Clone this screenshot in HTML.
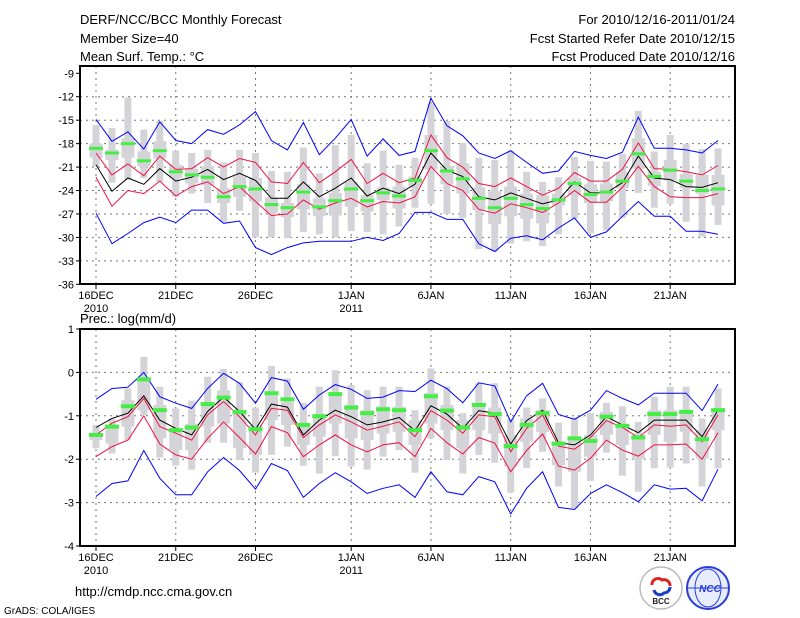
<!DOCTYPE html>
<html><head><meta charset="utf-8">
<style>
html,body{margin:0;padding:0;background:#fff;}
svg{display:block;font-family:"Liberation Sans",sans-serif;}
</style></head>
<body>
<svg id="chart" width="800" height="618" viewBox="0 0 800 618" xmlns="http://www.w3.org/2000/svg">
<g font-size="13" fill="#000">
<text x="80" y="24">DERF/NCC/BCC Monthly Forecast</text>
<text x="80" y="43">Member Size=40</text>
<text x="80" y="61">Mean Surf. Temp.: °C</text>
<text x="735" y="24" text-anchor="end">For 2010/12/16-2011/01/24</text>
<text x="735" y="43" text-anchor="end">Fcst Started Refer Date 2010/12/15</text>
<text x="735" y="61" text-anchor="end">Fcst Produced Date 2010/12/16</text>
<text x="80" y="323">Prec.: log(mm/d)</text>
<text x="75" y="596">http://cmdp.ncc.cma.gov.cn</text>
<text x="4" y="614" font-size="10">GrADS: COLA/IGES</text>
</g>
<g>
<circle cx="661" cy="588" r="21" fill="#fff" stroke="#bbb" stroke-width="1.5"/>
<path d="M652 585 a6 6 0 0 1 10 -5 a6 6 0 0 1 8 6" fill="none" stroke="#e02020" stroke-width="3"/>
<path d="M654 590 a6 6 0 0 0 10 3 a6 6 0 0 0 6 -6" fill="none" stroke="#1a3cc8" stroke-width="3"/>
<text x="661" y="604" font-size="8" text-anchor="middle" font-weight="bold" fill="#222">BCC</text>
</g>
<g>
<circle cx="708" cy="588" r="21" fill="#e8ecff" stroke="#2a3cd8" stroke-width="2"/>
<ellipse cx="708" cy="588" rx="13" ry="19" fill="none" stroke="#2a3cd8" stroke-width="1"/>
<line x1="688" y1="588" x2="728" y2="588" stroke="#2a3cd8" stroke-width="1"/>
<text x="710" y="592" font-size="10" text-anchor="middle" font-style="italic" font-weight="bold" fill="#2a3cd8">NCC</text>
</g>
</svg>
<script>
// ---- temperature panel data (°C) ----
const days = ["16DEC","","","","","21DEC","","","","","26DEC","","","","","","1JAN","","","","","6JAN","","","","","11JAN","","","","","16JAN","","","","","21JAN","","",""];
const dateLabels = ["16DEC","21DEC","26DEC","1JAN","6JAN","11JAN","16JAN","21JAN"];
const dateIdx = [0,5,10,16,21,26,31,36];
const yearLabels = ["2010","2011"];
const yearIdx = [0,16];
const tTicks = [-9,-12,-15,-18,-21,-24,-27,-30,-33,-36];
const pTicks = [1,0,-1,-2,-3,-4];

const tMax = [-14.9,-17.7,-16.5,-18.7,-15.2,-17.6,-18.0,-16.2,-16.8,-15.6,-13.9,-17.6,-18.8,-15.3,-19.4,-17.3,-14.9,-19.6,-17.4,-19.5,-19.0,-12.2,-15.7,-17.0,-19.2,-19.9,-18.9,-20.4,-21.8,-21.5,-19.0,-19.5,-19.9,-19.1,-14.6,-18.6,-18.6,-18.8,-19.2,-17.6];
const tMin = [-26.9,-30.8,-29.5,-28.1,-27.4,-28.1,-26.5,-26.5,-28.2,-27.9,-31.3,-32.2,-31.3,-30.7,-30.5,-30.5,-30.5,-30.0,-30.4,-29.5,-26.8,-26.8,-27.7,-27.7,-30.8,-31.8,-30.1,-29.8,-30.3,-28.8,-27.5,-30.0,-29.3,-27.3,-25.4,-27.3,-27.3,-29.2,-29.2,-29.6];
const tUp = [-19.2,-22.0,-20.6,-22.1,-19.6,-21.3,-21.2,-19.8,-21.0,-19.9,-20.4,-22.9,-23.1,-20.4,-23.0,-21.6,-20.0,-23.1,-21.8,-23.0,-22.4,-16.9,-19.8,-21.0,-23.1,-23.5,-22.4,-23.5,-24.6,-23.7,-21.7,-22.8,-22.8,-21.3,-17.9,-21.2,-21.3,-21.6,-22.0,-20.8];
const tMean = [-20.7,-24.1,-22.4,-23.2,-21.2,-22.8,-22.3,-21.3,-22.6,-21.8,-22.7,-25.0,-25.0,-22.9,-24.8,-23.7,-22.4,-24.7,-23.7,-24.4,-23.2,-19.2,-21.4,-22.2,-24.8,-25.2,-24.3,-25.0,-25.7,-25.2,-22.9,-24.3,-24.3,-23.0,-19.6,-22.4,-22.6,-23.5,-23.6,-23.0];
const tLo = [-22.3,-26.0,-24.0,-24.4,-22.8,-24.7,-23.5,-22.9,-24.4,-23.5,-25.4,-27.2,-27.0,-25.2,-26.4,-25.6,-25.0,-26.1,-25.4,-25.6,-24.8,-20.9,-23.1,-24.0,-26.4,-26.9,-25.7,-26.2,-26.8,-25.6,-24.0,-25.5,-25.5,-23.6,-20.9,-23.5,-24.8,-24.9,-24.9,-24.4];
const tWhiskTop = [-15.6,-16.0,-12.1,-16.2,-15.1,-18.9,-19.2,-18.8,-20.4,-18.8,-19.2,-21.5,-21.6,-18.5,-21.8,-18.2,-16.9,-20.5,-18.9,-20.7,-19.8,-12.9,-15.1,-17.9,-19.8,-20.1,-18.9,-21.6,-22.9,-22.3,-19.7,-20.2,-20.3,-19.3,-13.8,-19.0,-16.9,-18.0,-18.7,-18.6];
const tWhiskBot = [-20.9,-23.0,-22.6,-22.4,-22.9,-24.8,-24.4,-25.6,-28.0,-26.6,-30.0,-30.0,-30.1,-29.3,-29.6,-30.0,-29.2,-29.3,-29.6,-28.6,-26.2,-25.7,-27.0,-27.5,-31.5,-31.8,-30.8,-30.5,-31.1,-29.6,-27.6,-29.5,-29.1,-27.5,-24.3,-26.2,-25.7,-28.0,-29.9,-28.4];
const tBoxTop = [-18.0,-18.8,-17.3,-19.0,-17.7,-20.7,-21.2,-20.9,-23.7,-22.2,-22.4,-24.9,-25.6,-23.2,-25.0,-24.3,-22.9,-24.6,-23.6,-23.5,-22.2,-16.9,-20.9,-20.5,-23.6,-24.1,-23.5,-24.4,-24.6,-24.4,-22.4,-23.2,-23.1,-21.6,-17.3,-21.6,-20.1,-21.9,-22.0,-22.0];
const tBoxBot = [-19.8,-20.1,-19.8,-20.9,-19.9,-22.4,-23.1,-23.3,-25.6,-24.8,-25.4,-26.9,-27.4,-26.4,-27.3,-27.2,-26.1,-26.7,-25.2,-26.3,-23.5,-21.3,-23.2,-24.4,-26.5,-28.3,-27.3,-27.6,-28.2,-25.9,-24.6,-25.6,-25.4,-23.7,-21.2,-23.4,-22.7,-23.7,-24.4,-25.9];
const tObs = [-18.6,-19.2,-18.0,-20.2,-18.9,-21.6,-22.0,-22.3,-24.8,-23.5,-23.8,-25.8,-26.2,-24.2,-26.1,-25.3,-23.8,-25.3,-24.3,-24.7,-22.7,-18.9,-21.5,-22.5,-25.0,-26.2,-25.0,-25.8,-26.3,-25.2,-23.1,-24.5,-24.2,-22.8,-19.3,-22.2,-21.4,-22.8,-24.0,-23.8];

// ---- precipitation panel data (log mm/d) ----
const pMax = [-0.62,-0.37,-0.34,0.0,-0.56,-0.71,-0.83,-0.37,-0.02,-0.25,-0.71,-0.12,-0.20,-0.85,-0.52,-0.28,-0.39,-0.60,-0.57,-0.42,-0.44,-0.18,-0.37,-0.70,-0.24,-0.31,-1.14,-0.54,-0.25,-0.97,-1.08,-0.87,-0.42,-0.60,-0.75,-0.48,-0.48,-0.48,-0.88,-0.27];
const pMin = [-2.86,-2.56,-2.50,-1.80,-2.44,-2.82,-2.82,-2.29,-1.96,-2.26,-2.69,-2.10,-2.26,-2.88,-2.56,-2.31,-2.52,-2.79,-2.67,-2.59,-2.88,-2.29,-2.75,-2.82,-2.40,-2.52,-3.26,-2.67,-2.29,-3.11,-3.16,-2.79,-2.59,-2.77,-2.98,-2.59,-2.69,-2.67,-2.96,-2.23];
const pUp = [-1.44,-1.17,-1.02,-0.60,-1.25,-1.40,-1.56,-0.98,-0.67,-1.02,-1.44,-0.83,-0.87,-1.50,-1.21,-0.98,-1.14,-1.33,-1.24,-1.14,-1.48,-0.88,-1.10,-1.40,-0.98,-1.02,-1.83,-1.29,-0.98,-1.70,-1.77,-1.50,-1.11,-1.27,-1.50,-1.21,-1.24,-1.21,-1.60,-0.98];
const pMean = [-1.27,-1.06,-0.94,-0.54,-1.10,-1.29,-1.44,-0.90,-0.57,-0.90,-1.31,-0.73,-0.80,-1.44,-1.10,-0.87,-1.02,-1.21,-1.14,-1.04,-1.34,-0.77,-0.96,-1.29,-0.88,-0.94,-1.65,-1.11,-0.87,-1.62,-1.67,-1.44,-1.02,-1.21,-1.39,-1.10,-1.10,-1.10,-1.48,-0.87];
const pLo = [-1.94,-1.71,-1.56,-1.00,-1.65,-1.90,-2.00,-1.52,-1.14,-1.50,-1.88,-1.25,-1.39,-1.94,-1.67,-1.44,-1.67,-1.83,-1.67,-1.62,-1.94,-1.29,-1.62,-1.88,-1.50,-1.63,-2.29,-1.80,-1.42,-2.16,-2.25,-1.98,-1.56,-1.79,-1.93,-1.67,-1.67,-1.65,-2.00,-1.39];
const pWhiskTop = [-1.21,-1.06,-0.37,0.36,-0.33,-0.83,-0.65,-0.10,0.08,-0.22,-0.81,0.15,-0.14,-0.70,-0.33,0.05,-0.29,-0.41,-0.33,-0.33,-0.87,0.09,-0.33,-0.94,-0.25,-0.25,-1.06,-0.81,-0.60,-1.16,-1.04,-0.94,-0.70,-0.78,-1.14,-0.56,-0.33,-0.33,-1.06,-0.37];
const pWhiskBot = [-1.75,-1.87,-1.56,-0.98,-1.96,-2.15,-2.24,-1.62,-1.62,-2.02,-2.31,-1.90,-1.71,-2.15,-2.33,-1.93,-2.17,-2.24,-1.94,-1.79,-2.31,-1.52,-2.02,-2.33,-1.90,-2.08,-2.77,-2.20,-1.83,-2.63,-3.13,-2.50,-1.85,-2.38,-2.75,-2.21,-2.19,-2.10,-2.63,-2.21];
const pBoxTop = [-1.41,-1.21,-0.64,-0.14,-0.75,-1.29,-1.18,-0.68,-0.41,-0.87,-1.21,-0.52,-0.68,-1.18,-0.98,-0.48,-0.75,-0.87,-0.79,-0.79,-1.10,-0.47,-0.75,-1.10,-0.75,-0.81,-1.44,-1.06,-0.87,-1.64,-1.48,-1.44,-0.91,-1.25,-1.44,-0.87,-0.87,-0.87,-1.33,-0.87];
const pBoxBot = [-1.56,-1.64,-1.25,-0.87,-1.52,-1.79,-1.79,-1.25,-1.18,-1.75,-1.90,-1.10,-1.21,-1.67,-1.48,-1.18,-1.52,-1.56,-1.41,-1.37,-1.67,-1.18,-1.33,-1.75,-1.33,-1.41,-2.17,-1.60,-1.37,-2.14,-2.29,-1.94,-1.44,-1.67,-2.00,-1.44,-1.60,-1.37,-1.98,-1.33];
const pObs = [-1.44,-1.25,-0.78,-0.16,-0.87,-1.33,-1.27,-0.73,-0.58,-0.91,-1.31,-0.48,-0.62,-1.21,-1.01,-0.50,-0.81,-0.94,-0.85,-0.87,-1.33,-0.55,-0.88,-1.27,-0.75,-0.96,-1.70,-1.21,-0.94,-1.64,-1.52,-1.58,-1.02,-1.23,-1.50,-0.96,-0.96,-0.91,-1.54,-0.87];

const NS = "http://www.w3.org/2000/svg";
const svg = document.getElementById("chart");
function mk(tag, attrs, parent) {
  const e = document.createElementNS(NS, tag);
  for (const k in attrs) e.setAttribute(k, attrs[k]);
  (parent || svg).appendChild(e);
  return e;
}
const X0 = 80, X1 = 735;
function xAt(i) { return 96 + i * 15.95; }

function panel(cfg) {
  const g = mk("g", {});
  
  
  const y = v => cfg.py0 + (cfg.v0 - v) * (cfg.py1 - cfg.py0) / (cfg.v0 - cfg.v1);
  // grid
  cfg.ticks.forEach(t => {
    if (t === cfg.v0 || t === cfg.v1) return;
    const l = mk("line", {x1: X0, x2: X1, y1: y(t), y2: y(t), stroke: "#777", "stroke-width": 1, "stroke-dasharray": "2,4"}, g);
    
    
  });
  dateIdx.forEach(i => {
    const l = mk("line", {x1: xAt(i), x2: xAt(i), y1: cfg.top, y2: cfg.bot, stroke: "#777", "stroke-width": 1, "stroke-dasharray": "2,4"}, g);
    
    
  });
  // gray bars
  for (let i = 0; i < cfg.wt.length; i++) {
    const w = mk("rect", {x: xAt(i) - 3.5, width: 7, y: y(cfg.wt[i]), height: y(cfg.wb[i]) - y(cfg.wt[i]), fill: "#d4d4d8"}, g);
    
    
    const b = mk("rect", {x: xAt(i) - 6.5, width: 13, y: y(cfg.bt[i]), height: y(cfg.bb[i]) - y(cfg.bt[i]), fill: "#d4d4d8"}, g);
    
    
  }
  // lines
  const series = [[cfg.max, "#0000ff", "max-line"], [cfg.min, "#0000ff", "min-line"], [cfg.up, "#ee1144", "upper-sd-line"], [cfg.lo, "#ee1144", "lower-sd-line"], [cfg.mean, "#000", "ensemble-mean-line"]];
  series.forEach(s => {
    const pts = s[0].map((v, i) => xAt(i).toFixed(1) + "," + y(v).toFixed(1)).join(" ");
    const p = mk("polyline", {points: pts, fill: "none", stroke: s[1], "stroke-width": 1}, g);
    
    
  });
  // observations
  cfg.obs.forEach((v, i) => {
    const r = mk("rect", {x: xAt(i) - 7, width: 14, y: y(v) - cfg.oh / 2, height: cfg.oh, fill: "#44ee44"}, g);
    
    
  });
  // frame
  const f = mk("rect", {x: X0, y: cfg.top, width: X1 - X0, height: cfg.bot - cfg.top, fill: "none", stroke: "#000", "stroke-width": 2}, g);
  
  
  // y ticks
  cfg.ticks.forEach(t => {
    mk("line", {x1: X0 - 4, x2: X0, y1: y(t), y2: y(t), stroke: "#000"}, g);
    const tx = mk("text", {x: X0 - 6, y: y(t) + 4, "font-size": 11, "text-anchor": "end"}, g);
    tx.textContent = t;
    
    
  });
  // x ticks
  for (let i = 0; i < cfg.wt.length; i++) {
    mk("line", {x1: xAt(i), x2: xAt(i), y1: cfg.bot, y2: cfg.bot + (dateIdx.includes(i) ? 5 : 0), stroke: "#000"}, g);
  }
  dateLabels.forEach((d, k) => {
    const tx = mk("text", {x: xAt(dateIdx[k]), y: cfg.bot + 15, "font-size": 11, "text-anchor": "middle"}, g);
    tx.textContent = d;
    
    
  });
  yearLabels.forEach((d, k) => {
    const tx = mk("text", {x: xAt(yearIdx[k]), y: cfg.bot + 28, "font-size": 11, "text-anchor": "middle"}, g);
    tx.textContent = d;
    
    
  });
}

panel({name: "temperature-panel", top: 66, bot: 284, py0: 73.3, py1: 284.3, v0: -9, v1: -36, ticks: tTicks,
  max: tMax, min: tMin, up: tUp, lo: tLo, mean: tMean, wt: tWhiskTop, wb: tWhiskBot, bt: tBoxTop, bb: tBoxBot, obs: tObs, oh: 3});
panel({name: "precipitation-panel", top: 329, bot: 546, py0: 329, py1: 546, v0: 1, v1: -4, ticks: pTicks,
  max: pMax, min: pMin, up: pUp, lo: pLo, mean: pMean, wt: pWhiskTop, wb: pWhiskBot, bt: pBoxTop, bb: pBoxBot, obs: pObs, oh: 4});
</script>
</body></html>
